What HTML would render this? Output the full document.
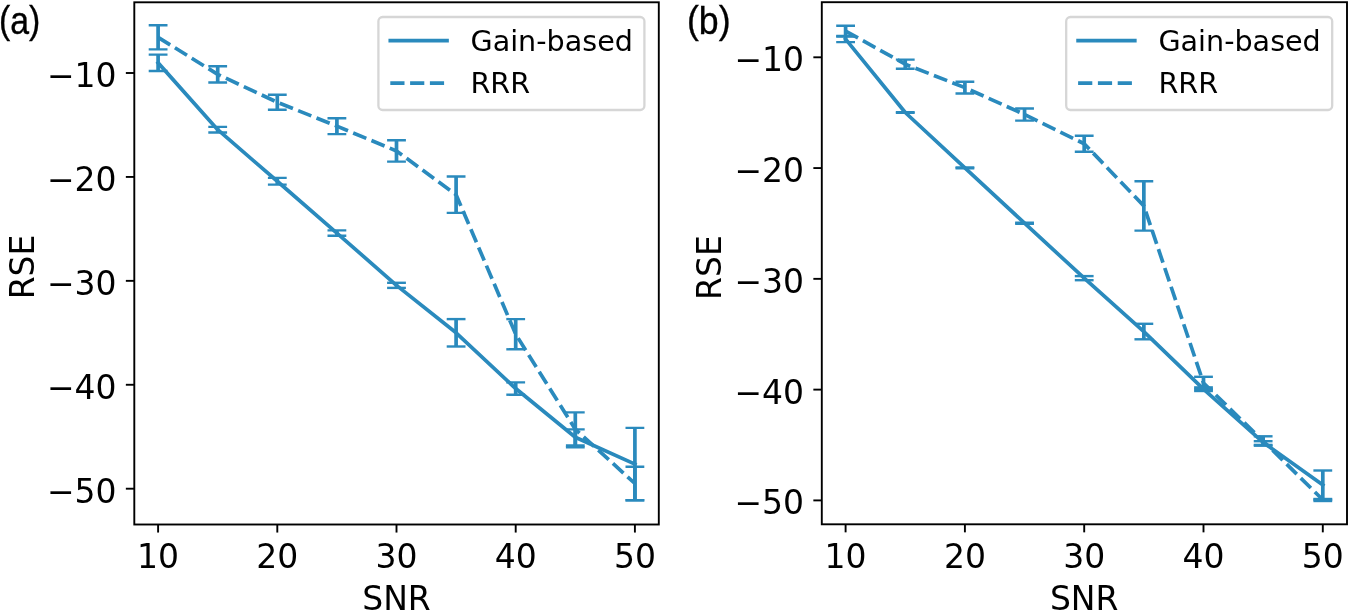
<!DOCTYPE html>
<html lang="en"><head><meta charset="utf-8"><title>RSE vs SNR</title>
<style>
html,body{margin:0;padding:0;background:#fff;}
body{width:1350px;height:612px;overflow:hidden;}
svg{display:block;will-change:transform;}
text{font-family:'DejaVu Sans','Liberation Sans',sans-serif;fill:#000;}
.lab{font-family:'Liberation Sans','DejaVu Sans',sans-serif;}
</style></head><body>
<svg width="1350" height="612" viewBox="0 0 1350 612">
<rect x="0" y="0" width="1350" height="612" fill="#fff"/>
<g id="panel-a">
<clipPath id="clip-a"><rect x="134.3" y="2.3" width="524.5" height="522.2"/></clipPath>
<g clip-path="url(#clip-a)" fill="none" stroke="#2a8abd">
<line x1="158.1" y1="54.6" x2="158.1" y2="71" stroke-width="3.7"/>
<line x1="148.7" y1="54.6" x2="167.5" y2="54.6" stroke-width="2.4"/>
<line x1="148.7" y1="71" x2="167.5" y2="71" stroke-width="2.4"/>
<line x1="217.7" y1="126.9" x2="217.7" y2="132.5" stroke-width="3.7"/>
<line x1="208.3" y1="126.9" x2="227.1" y2="126.9" stroke-width="2.4"/>
<line x1="208.3" y1="132.5" x2="227.1" y2="132.5" stroke-width="2.4"/>
<line x1="277.3" y1="177.9" x2="277.3" y2="184.6" stroke-width="3.7"/>
<line x1="267.9" y1="177.9" x2="286.7" y2="177.9" stroke-width="2.4"/>
<line x1="267.9" y1="184.6" x2="286.7" y2="184.6" stroke-width="2.4"/>
<line x1="336.9" y1="230.4" x2="336.9" y2="235.7" stroke-width="3.7"/>
<line x1="327.5" y1="230.4" x2="346.3" y2="230.4" stroke-width="2.4"/>
<line x1="327.5" y1="235.7" x2="346.3" y2="235.7" stroke-width="2.4"/>
<line x1="396.5" y1="282.8" x2="396.5" y2="287.9" stroke-width="3.7"/>
<line x1="387.1" y1="282.8" x2="405.9" y2="282.8" stroke-width="2.4"/>
<line x1="387.1" y1="287.9" x2="405.9" y2="287.9" stroke-width="2.4"/>
<line x1="456.1" y1="319.1" x2="456.1" y2="346.5" stroke-width="3.7"/>
<line x1="446.7" y1="319.1" x2="465.5" y2="319.1" stroke-width="2.4"/>
<line x1="446.7" y1="346.5" x2="465.5" y2="346.5" stroke-width="2.4"/>
<line x1="515.7" y1="382.4" x2="515.7" y2="394.7" stroke-width="3.7"/>
<line x1="506.3" y1="382.4" x2="525.1" y2="382.4" stroke-width="2.4"/>
<line x1="506.3" y1="394.7" x2="525.1" y2="394.7" stroke-width="2.4"/>
<line x1="575.3" y1="429.4" x2="575.3" y2="445.5" stroke-width="3.7"/>
<line x1="565.9" y1="429.4" x2="584.7" y2="429.4" stroke-width="2.4"/>
<line x1="565.9" y1="445.5" x2="584.7" y2="445.5" stroke-width="2.4"/>
<line x1="634.9" y1="427.9" x2="634.9" y2="500.3" stroke-width="3.7"/>
<line x1="625.5" y1="427.9" x2="644.3" y2="427.9" stroke-width="2.4"/>
<line x1="625.5" y1="500.3" x2="644.3" y2="500.3" stroke-width="2.4"/>
<line x1="158.1" y1="25.3" x2="158.1" y2="49.4" stroke-width="3.7"/>
<line x1="148.7" y1="25.3" x2="167.5" y2="25.3" stroke-width="2.4"/>
<line x1="148.7" y1="49.4" x2="167.5" y2="49.4" stroke-width="2.4"/>
<line x1="217.7" y1="66.2" x2="217.7" y2="82.5" stroke-width="3.7"/>
<line x1="208.3" y1="66.2" x2="227.1" y2="66.2" stroke-width="2.4"/>
<line x1="208.3" y1="82.5" x2="227.1" y2="82.5" stroke-width="2.4"/>
<line x1="277.3" y1="94.8" x2="277.3" y2="109.7" stroke-width="3.7"/>
<line x1="267.9" y1="94.8" x2="286.7" y2="94.8" stroke-width="2.4"/>
<line x1="267.9" y1="109.7" x2="286.7" y2="109.7" stroke-width="2.4"/>
<line x1="336.9" y1="118.2" x2="336.9" y2="134.1" stroke-width="3.7"/>
<line x1="327.5" y1="118.2" x2="346.3" y2="118.2" stroke-width="2.4"/>
<line x1="327.5" y1="134.1" x2="346.3" y2="134.1" stroke-width="2.4"/>
<line x1="396.5" y1="140.3" x2="396.5" y2="161.6" stroke-width="3.7"/>
<line x1="387.1" y1="140.3" x2="405.9" y2="140.3" stroke-width="2.4"/>
<line x1="387.1" y1="161.6" x2="405.9" y2="161.6" stroke-width="2.4"/>
<line x1="456.1" y1="176.5" x2="456.1" y2="212.9" stroke-width="3.7"/>
<line x1="446.7" y1="176.5" x2="465.5" y2="176.5" stroke-width="2.4"/>
<line x1="446.7" y1="212.9" x2="465.5" y2="212.9" stroke-width="2.4"/>
<line x1="515.7" y1="319.1" x2="515.7" y2="349.3" stroke-width="3.7"/>
<line x1="506.3" y1="319.1" x2="525.1" y2="319.1" stroke-width="2.4"/>
<line x1="506.3" y1="349.3" x2="525.1" y2="349.3" stroke-width="2.4"/>
<line x1="575.3" y1="412.4" x2="575.3" y2="447.2" stroke-width="3.7"/>
<line x1="565.9" y1="412.4" x2="584.7" y2="412.4" stroke-width="2.4"/>
<line x1="565.9" y1="447.2" x2="584.7" y2="447.2" stroke-width="2.4"/>
<line x1="634.9" y1="466.8" x2="634.9" y2="500.3" stroke-width="3.7"/>
<line x1="625.5" y1="466.8" x2="644.3" y2="466.8" stroke-width="2.4"/>
<line x1="625.5" y1="500.3" x2="644.3" y2="500.3" stroke-width="2.4"/>
<polyline points="158.1,62.8 217.7,129.7 277.3,181.25 336.9,233.05 396.5,285.35 456.1,332.8 515.7,388.55 575.3,437.2 634.9,464.1" stroke-width="3.7" stroke-linejoin="round" stroke-linecap="square"/>
<polyline points="158.1,37.35 217.7,74.35 277.3,102.25 336.9,126.15 396.5,150.95 456.1,194.7 515.7,334.2 575.3,429.2 634.9,483.5" stroke-width="3.7" stroke-linejoin="round" stroke-dasharray="14.2 5.6"/>
</g>
<rect x="134.3" y="2.3" width="524.5" height="522.2" fill="none" stroke="#000" stroke-width="1.9"/>
<g stroke="#000" stroke-width="1.9">
<line x1="158.1" y1="524.5" x2="158.1" y2="532.55"/>
<line x1="277.3" y1="524.5" x2="277.3" y2="532.55"/>
<line x1="396.5" y1="524.5" x2="396.5" y2="532.55"/>
<line x1="515.7" y1="524.5" x2="515.7" y2="532.55"/>
<line x1="634.9" y1="524.5" x2="634.9" y2="532.55"/>
<line x1="125.85" y1="73" x2="134.3" y2="73"/>
<line x1="125.85" y1="176.93" x2="134.3" y2="176.93"/>
<line x1="125.85" y1="280.85" x2="134.3" y2="280.85"/>
<line x1="125.85" y1="384.77" x2="134.3" y2="384.77"/>
<line x1="125.85" y1="488.7" x2="134.3" y2="488.7"/>
</g>
<g font-size="33">
<text x="158.1" y="567.8" text-anchor="middle">10</text>
<text x="277.3" y="567.8" text-anchor="middle">20</text>
<text x="396.5" y="567.8" text-anchor="middle">30</text>
<text x="515.7" y="567.8" text-anchor="middle">40</text>
<text x="634.9" y="567.8" text-anchor="middle">50</text>
<text x="116.55" y="86.9" text-anchor="end">−10</text>
<text x="116.55" y="190.83" text-anchor="end">−20</text>
<text x="116.55" y="294.75" text-anchor="end">−30</text>
<text x="116.55" y="398.67" text-anchor="end">−40</text>
<text x="116.55" y="502.6" text-anchor="end">−50</text>
<text x="396.5" y="609.6" text-anchor="middle">SNR</text>
<text transform="translate(33.6 267) rotate(-90)" text-anchor="middle">RSE</text>
</g>
<rect x="378.4" y="17" width="266" height="93" rx="4.2" ry="4.2" fill="#fff" fill-opacity="0.8" stroke="#cccccc" stroke-opacity="0.8" stroke-width="2.3"/>
<line x1="390.3" y1="40.7" x2="447" y2="40.7" stroke="#2a8abd" stroke-width="3.7" stroke-linecap="square"/>
<line x1="390.3" y1="83.1" x2="447" y2="83.1" stroke="#2a8abd" stroke-width="3.7" stroke-dasharray="14.2 5.6"/>
<text x="470.5" y="51.1" font-size="28.6">Gain-based</text>
<text x="470.5" y="93.3" font-size="28.6">RRR</text>
<text class="lab" transform="translate(-1 33.6) scale(0.89 1)" font-size="38" stroke="#000" stroke-width="0.35"><tspan dy="-0.5">(</tspan><tspan dy="0.5">a</tspan><tspan dy="-0.5">)</tspan></text>
</g>
<g id="panel-b">
<clipPath id="clip-b"><rect x="821.8" y="2.2" width="525.2" height="522.1"/></clipPath>
<g clip-path="url(#clip-b)" fill="none" stroke="#2a8abd">
<line x1="845.6" y1="36" x2="845.6" y2="42.1" stroke-width="3.7"/>
<line x1="836.2" y1="36" x2="855" y2="36" stroke-width="2.4"/>
<line x1="836.2" y1="42.1" x2="855" y2="42.1" stroke-width="2.4"/>
<line x1="905.25" y1="112.1" x2="905.25" y2="112.9" stroke-width="3.7"/>
<line x1="895.85" y1="112.1" x2="914.65" y2="112.1" stroke-width="2.4"/>
<line x1="895.85" y1="112.9" x2="914.65" y2="112.9" stroke-width="2.4"/>
<line x1="964.9" y1="167.4" x2="964.9" y2="168.2" stroke-width="3.7"/>
<line x1="955.5" y1="167.4" x2="974.3" y2="167.4" stroke-width="2.4"/>
<line x1="955.5" y1="168.2" x2="974.3" y2="168.2" stroke-width="2.4"/>
<line x1="1024.55" y1="222.7" x2="1024.55" y2="223.7" stroke-width="3.7"/>
<line x1="1015.15" y1="222.7" x2="1033.95" y2="222.7" stroke-width="2.4"/>
<line x1="1015.15" y1="223.7" x2="1033.95" y2="223.7" stroke-width="2.4"/>
<line x1="1084.2" y1="276.1" x2="1084.2" y2="280.2" stroke-width="3.7"/>
<line x1="1074.8" y1="276.1" x2="1093.6" y2="276.1" stroke-width="2.4"/>
<line x1="1074.8" y1="280.2" x2="1093.6" y2="280.2" stroke-width="2.4"/>
<line x1="1143.85" y1="323.8" x2="1143.85" y2="339.3" stroke-width="3.7"/>
<line x1="1134.45" y1="323.8" x2="1153.25" y2="323.8" stroke-width="2.4"/>
<line x1="1134.45" y1="339.3" x2="1153.25" y2="339.3" stroke-width="2.4"/>
<line x1="1203.5" y1="387.4" x2="1203.5" y2="391" stroke-width="3.7"/>
<line x1="1194.1" y1="387.4" x2="1212.9" y2="387.4" stroke-width="2.4"/>
<line x1="1194.1" y1="391" x2="1212.9" y2="391" stroke-width="2.4"/>
<line x1="1263.15" y1="441.2" x2="1263.15" y2="444.9" stroke-width="3.7"/>
<line x1="1253.75" y1="441.2" x2="1272.55" y2="441.2" stroke-width="2.4"/>
<line x1="1253.75" y1="444.9" x2="1272.55" y2="444.9" stroke-width="2.4"/>
<line x1="1322.8" y1="470.5" x2="1322.8" y2="499.6" stroke-width="3.7"/>
<line x1="1313.4" y1="470.5" x2="1332.2" y2="470.5" stroke-width="2.4"/>
<line x1="1313.4" y1="499.6" x2="1332.2" y2="499.6" stroke-width="2.4"/>
<line x1="845.6" y1="25.7" x2="845.6" y2="36.6" stroke-width="3.7"/>
<line x1="836.2" y1="25.7" x2="855" y2="25.7" stroke-width="2.4"/>
<line x1="836.2" y1="36.6" x2="855" y2="36.6" stroke-width="2.4"/>
<line x1="905.25" y1="59.6" x2="905.25" y2="68.8" stroke-width="3.7"/>
<line x1="895.85" y1="59.6" x2="914.65" y2="59.6" stroke-width="2.4"/>
<line x1="895.85" y1="68.8" x2="914.65" y2="68.8" stroke-width="2.4"/>
<line x1="964.9" y1="81.8" x2="964.9" y2="93.5" stroke-width="3.7"/>
<line x1="955.5" y1="81.8" x2="974.3" y2="81.8" stroke-width="2.4"/>
<line x1="955.5" y1="93.5" x2="974.3" y2="93.5" stroke-width="2.4"/>
<line x1="1024.55" y1="108.5" x2="1024.55" y2="120.6" stroke-width="3.7"/>
<line x1="1015.15" y1="108.5" x2="1033.95" y2="108.5" stroke-width="2.4"/>
<line x1="1015.15" y1="120.6" x2="1033.95" y2="120.6" stroke-width="2.4"/>
<line x1="1084.2" y1="135.7" x2="1084.2" y2="151.8" stroke-width="3.7"/>
<line x1="1074.8" y1="135.7" x2="1093.6" y2="135.7" stroke-width="2.4"/>
<line x1="1074.8" y1="151.8" x2="1093.6" y2="151.8" stroke-width="2.4"/>
<line x1="1143.85" y1="181.2" x2="1143.85" y2="230.6" stroke-width="3.7"/>
<line x1="1134.45" y1="181.2" x2="1153.25" y2="181.2" stroke-width="2.4"/>
<line x1="1134.45" y1="230.6" x2="1153.25" y2="230.6" stroke-width="2.4"/>
<line x1="1203.5" y1="376.8" x2="1203.5" y2="389.2" stroke-width="3.7"/>
<line x1="1194.1" y1="376.8" x2="1212.9" y2="376.8" stroke-width="2.4"/>
<line x1="1194.1" y1="389.2" x2="1212.9" y2="389.2" stroke-width="2.4"/>
<line x1="1263.15" y1="436.3" x2="1263.15" y2="445.7" stroke-width="3.7"/>
<line x1="1253.75" y1="436.3" x2="1272.55" y2="436.3" stroke-width="2.4"/>
<line x1="1253.75" y1="445.7" x2="1272.55" y2="445.7" stroke-width="2.4"/>
<line x1="1322.8" y1="499" x2="1322.8" y2="501" stroke-width="3.7"/>
<line x1="1313.4" y1="499" x2="1332.2" y2="499" stroke-width="2.4"/>
<line x1="1313.4" y1="501" x2="1332.2" y2="501" stroke-width="2.4"/>
<polyline points="845.6,39.1 905.25,112.5 964.9,167.8 1024.55,223.2 1084.2,278.15 1143.85,331.55 1203.5,389.2 1263.15,442.3 1322.8,485" stroke-width="3.7" stroke-linejoin="round" stroke-linecap="square"/>
<polyline points="845.6,31.1 905.25,64.2 964.9,87.6 1024.55,114.5 1084.2,143.75 1143.85,205.9 1203.5,383 1263.15,441 1322.8,499.8" stroke-width="3.7" stroke-linejoin="round" stroke-dasharray="14.2 5.6"/>
</g>
<rect x="821.8" y="2.2" width="525.2" height="522.1" fill="none" stroke="#000" stroke-width="1.9"/>
<g stroke="#000" stroke-width="1.9">
<line x1="845.6" y1="524.3" x2="845.6" y2="532.35"/>
<line x1="964.9" y1="524.3" x2="964.9" y2="532.35"/>
<line x1="1084.2" y1="524.3" x2="1084.2" y2="532.35"/>
<line x1="1203.5" y1="524.3" x2="1203.5" y2="532.35"/>
<line x1="1322.8" y1="524.3" x2="1322.8" y2="532.35"/>
<line x1="813.35" y1="57.3" x2="821.8" y2="57.3"/>
<line x1="813.35" y1="168.07" x2="821.8" y2="168.07"/>
<line x1="813.35" y1="278.85" x2="821.8" y2="278.85"/>
<line x1="813.35" y1="389.62" x2="821.8" y2="389.62"/>
<line x1="813.35" y1="500.4" x2="821.8" y2="500.4"/>
</g>
<g font-size="33">
<text x="845.6" y="567.8" text-anchor="middle">10</text>
<text x="964.9" y="567.8" text-anchor="middle">20</text>
<text x="1084.2" y="567.8" text-anchor="middle">30</text>
<text x="1203.5" y="567.8" text-anchor="middle">40</text>
<text x="1322.8" y="567.8" text-anchor="middle">50</text>
<text x="804.05" y="71.2" text-anchor="end">−10</text>
<text x="804.05" y="181.97" text-anchor="end">−20</text>
<text x="804.05" y="292.75" text-anchor="end">−30</text>
<text x="804.05" y="403.52" text-anchor="end">−40</text>
<text x="804.05" y="514.3" text-anchor="end">−50</text>
<text x="1084.2" y="609.6" text-anchor="middle">SNR</text>
<text transform="translate(721.4 267.6) rotate(-90)" text-anchor="middle">RSE</text>
</g>
<rect x="1066.2" y="17" width="266" height="93" rx="4.2" ry="4.2" fill="#fff" fill-opacity="0.8" stroke="#cccccc" stroke-opacity="0.8" stroke-width="2.3"/>
<line x1="1078.1" y1="40.7" x2="1134.8" y2="40.7" stroke="#2a8abd" stroke-width="3.7" stroke-linecap="square"/>
<line x1="1078.1" y1="83.1" x2="1134.8" y2="83.1" stroke="#2a8abd" stroke-width="3.7" stroke-dasharray="14.2 5.6"/>
<text x="1158.4" y="51.1" font-size="28.6">Gain-based</text>
<text x="1158.4" y="93.3" font-size="28.6">RRR</text>
<text class="lab" transform="translate(686.9 33.6) scale(0.94 1)" font-size="38" stroke="#000" stroke-width="0.35"><tspan dy="-0.5">(</tspan><tspan dy="0.5">b</tspan><tspan dy="-0.5">)</tspan></text>
</g>
</svg></body></html>
